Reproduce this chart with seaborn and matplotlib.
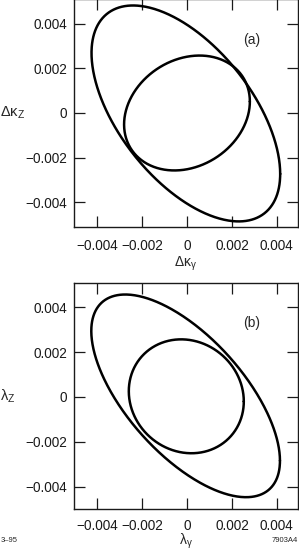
import numpy as np
import pandas as pd
import matplotlib
matplotlib.use("Agg")
import matplotlib.pyplot as plt
import seaborn as sns

# Ellipse parameters (units of 1e-3): half-widths, correlation, centre
panels = ["(a)", "(b)"]
contours = ["outer", "inner"]
sig_x_a = [4.20, 2.80]
sig_y_a = [4.83, 2.57]
rho_a = [-0.56, 0.20]
cx_a = [-0.05, 0.0]
cy_a = [-0.02, 0.0]

sig_x_b = [4.20, 2.56]
sig_y_b = [4.52, 2.54]
rho_b = [-0.64, -0.09]
cx_b = [-0.06, -0.03]
cy_b = [0.05, 0.03]

tick_vals = [-0.004, -0.002, 0, 0.002, 0.004]
tick_labels = ["\u22120.004", "\u22120.002", "0", "0.002", "0.004"]

xlabels = ["\u0394\u03ba$_{\u03b3}$", "\u03bb$_{\u03b3}$"]
ylabels = ["\u0394\u03ba$_{\\mathrm{Z}}$", "\u03bb$_{\\mathrm{Z}}$"]

sns.set_style("ticks")
plt.rcParams["font.family"] = ["Liberation Sans", "DejaVu Sans"]
plt.rcParams["mathtext.fontset"] = "custom"
plt.rcParams["mathtext.rm"] = "Liberation Sans"
plt.rcParams["mathtext.it"] = "Liberation Sans"
plt.rcParams["mathtext.bf"] = "Liberation Sans"


def ellipse_df(sx, sy, rho, cx, cy):
    t = np.linspace(0, 2 * np.pi, 600)
    frames = []
    for i in range(len(sx)):
        d = np.arccos(rho[i])
        x = (cx[i] + sx[i] * np.cos(t)) * 1e-3
        y = (cy[i] + sy[i] * np.cos(t - d)) * 1e-3
        frames.append(pd.DataFrame({"x": x, "y": y, "contour": contours[i]}))
    return pd.concat(frames, ignore_index=True)


W, H = 299, 555
fig = plt.figure(figsize=(W / 100, H / 100), dpi=100)

# axes boxes in pixels: left, top, right, bottom
boxes = [(74, -1, 297.7, 227), (74, 283.3, 297.7, 509.3)]
ylims = [(-0.0051, 0.0051), (-0.00501, 0.00507)]
xlim = (-0.00503, 0.00493)
xpads = [9.0, 7.2]
xlab_y = [(227 - 266.5) / 228, (509.3 - 545.0) / 226]
data = [ellipse_df(sig_x_a, sig_y_a, rho_a, cx_a, cy_a),
        ellipse_df(sig_x_b, sig_y_b, rho_b, cx_b, cy_b)]

for k in range(2):
    l, t, r, b = boxes[k]
    ax = fig.add_axes([l / W, (H - b) / H, (r - l) / W, (b - t) / H])
    sns.lineplot(data=data[k], x="x", y="y", units="contour", estimator=None,
                 sort=False, color="black", lw=1.8, ax=ax, legend=False)
    ax.set_xlim(*xlim)
    ax.set_ylim(*ylims[k])
    ax.set_xticks(tick_vals)
    ax.set_xticklabels(tick_labels)
    ax.set_yticks(tick_vals)
    ax.set_yticklabels(tick_labels)
    ax.tick_params(direction="in", length=8, width=0.9, top=True, right=True,
                   labelsize=9.8, colors="#1a1a1a")
    ax.tick_params(axis="x", pad=xpads[k])
    ax.tick_params(axis="y", pad=5)
    for s in ax.spines.values():
        s.set_linewidth(1.0)
        s.set_color("#1a1a1a")
    ax.set_xlabel(xlabels[k], fontsize=10, va="baseline")
    ax.xaxis.set_label_coords(0.5, xlab_y[k])
    ax.set_ylabel(ylabels[k], fontsize=10.5, rotation=0, ha="left", va="center")
    ax.yaxis.set_label_coords(-74 / 223.7, 0.5)
    ax.text(0.795, 0.82 if k == 0 else 0.823, panels[k], transform=ax.transAxes,
            ha="center", va="center", fontsize=10)

fig.text(0.5 / W, 1 - 540 / H, "3\u201395", fontsize=5.5, ha="left", va="center")
fig.text(298 / W, 1 - 540 / H, "7903A4", fontsize=5.5, ha="right", va="center")

fig.savefig("out.png", dpi=100)
